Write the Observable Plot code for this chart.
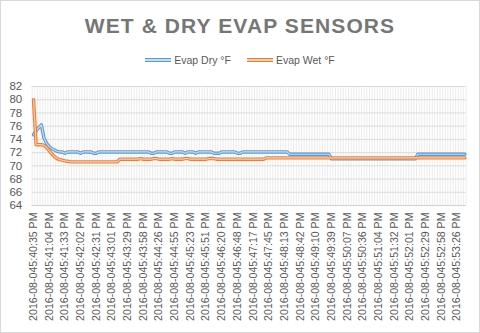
<!DOCTYPE html>
<html>
<head>
<meta charset="utf-8">
<script src="https://cdn.jsdelivr.net/npm/d3@7"></script>
<script src="https://cdn.jsdelivr.net/npm/@observablehq/plot@0.6"></script>
<style>
  html, body { margin: 0; padding: 0; background: #fff; }
  #wrap { position: relative; width: 480px; height: 333px; overflow: hidden; background: #fff; font-family: "Liberation Sans", Arial, sans-serif; }
  #frame { position: absolute; left: 0; top: 0; width: 480px; height: 333px; box-sizing: border-box; border: 1px solid #d9d9d9; pointer-events: none; }
  #title { position: absolute; left: 0; top: 15px; width: 480px; text-align: center; font-size: 21px; line-height: 21px; font-weight: bold; letter-spacing: 1.1px; color: #767676; }
  #legend { position: absolute; left: 0; top: 52px; width: 480px; height: 16px; display: flex; justify-content: center; align-items: center; font-size: 10.5px; color: #595959; }
  .item { display: flex; align-items: center; margin: 0 8px; }
  .sw { width: 26px; height: 1.6px; border-top: 1px solid; border-bottom: 1px solid; margin-right: 3px; }
  #chart { position: absolute; left: 0; top: 72px; }
  #chart svg [aria-label^="y-axis"] text { font-size: 11.5px; }
  #chart svg [aria-label^="x-axis"] text { font-size: 10.6px; }
</style>
</head>
<body>
<div id="wrap">
  <div id="title">WET &amp; DRY EVAP SENSORS</div>
  <div id="legend"></div>
  <div id="chart"></div>
  <div id="frame"></div>
</div>
<script>
const seriesNames = ["Evap Dry °F", "Evap Wet °F"];
const seriesColors = ["#5B9BD5", "#ED7D31"];
const seriesInner = ["#c9ddf1", "#f9cfb3"];

const dry = [
  74.7,75.3,75.8,76.2,74.2,73.4,72.9,72.6,72.4,72.2,
  72.1,72.1,71.9,72.1,72.1,72.1,72.1,72.1,71.9,72.1,
  72.1,72.1,72.1,71.9,71.9,72.1,72.1,72.1,72.1,72.1,
  72.1,72.1,72.1,72.1,72.1,72.1,72.1,72.1,72.1,72.1,
  72.1,72.1,72.1,72.1,72.1,71.9,71.9,72.1,72.1,72.1,
  72.1,72.1,71.9,71.9,72.1,72.1,72.1,72.1,71.9,72.1,
  72.1,72.1,71.9,72.1,72.1,72.1,72.1,72.1,72.1,71.9,
  71.9,71.9,72.1,72.1,72.1,72.1,72.1,72.1,71.9,71.9,
  72.1,72.1,72.1,72.1,72.1,72.1,72.1,72.1,72.1,72.1,
  72.1,72.1,72.1,72.1,72.1,72.1,72.1,72.1,71.75,71.75,
  71.75,71.75,71.75,71.75,71.75,71.75,71.75,71.75,71.75,71.75,
  71.75,71.75,71.75,71.75,71.05,71.05,71.05,71.05,71.05,71.05,
  71.05,71.05,71.05,71.05,71.05,71.05,71.05,71.05,71.05,71.05,
  71.05,71.05,71.05,71.05,71.05,71.05,71.05,71.05,71.05,71.05,
  71.05,71.05,71.05,71.05,71.05,71.05,71.05,71.75,71.75,71.75,
  71.75,71.75,71.75,71.75,71.75,71.75,71.75,71.75,71.75,71.75,
  71.75,71.75,71.75,71.75,71.75,71.75
];

const wet = [
  80.0,73.2,73.2,73.2,73.1,72.8,72.3,71.8,71.4,71.1,
  70.95,70.85,70.75,70.7,70.6,70.6,70.6,70.6,70.6,70.6,
  70.6,70.6,70.6,70.6,70.6,70.6,70.6,70.6,70.6,70.6,
  70.6,70.6,70.6,71.0,71.0,71.0,71.0,71.0,71.0,71.0,
  71.0,71.1,71.0,71.0,71.0,71.0,71.1,71.1,71.0,71.0,
  71.0,71.0,71.0,71.1,71.0,71.0,71.0,71.0,71.1,71.1,
  71.0,71.0,71.0,71.0,71.0,71.0,71.0,71.1,71.1,71.1,
  71.0,71.0,71.0,71.0,71.0,71.0,71.0,71.0,71.0,71.0,
  71.0,71.0,71.0,71.0,71.0,71.0,71.0,71.0,71.0,71.2,
  71.2,71.2,71.2,71.2,71.2,71.2,71.2,71.2,71.2,71.2,
  71.2,71.2,71.2,71.2,71.2,71.2,71.2,71.2,71.2,71.2,
  71.2,71.2,71.2,71.2,71.2,71.2,71.2,71.2,71.2,71.2,
  71.2,71.2,71.2,71.2,71.2,71.2,71.2,71.2,71.2,71.2,
  71.2,71.2,71.2,71.2,71.2,71.2,71.2,71.2,71.2,71.2,
  71.2,71.2,71.2,71.2,71.2,71.2,71.2,71.2,71.2,71.2,
  71.2,71.2,71.2,71.2,71.2,71.2,71.2,71.2,71.2,71.2,
  71.2,71.2,71.2,71.2,71.2,71.2
];

const tickLabels = [
  "2016-08-045:40:35 PM","2016-08-045:41:04 PM","2016-08-045:41:33 PM","2016-08-045:42:02 PM",
  "2016-08-045:42:31 PM","2016-08-045:43:01 PM","2016-08-045:43:29 PM","2016-08-045:43:58 PM",
  "2016-08-045:44:26 PM","2016-08-045:44:55 PM","2016-08-045:45:23 PM","2016-08-045:45:51 PM",
  "2016-08-045:46:20 PM","2016-08-045:46:48 PM","2016-08-045:47:17 PM","2016-08-045:47:45 PM",
  "2016-08-045:48:13 PM","2016-08-045:48:42 PM","2016-08-045:49:10 PM","2016-08-045:49:39 PM",
  "2016-08-045:50:07 PM","2016-08-045:50:36 PM","2016-08-045:51:04 PM","2016-08-045:51:32 PM",
  "2016-08-045:52:01 PM","2016-08-045:52:29 PM","2016-08-045:52:58 PM","2016-08-045:53:26 PM"
];
const labelEvery = 6;
const yTicks = [64, 66, 68, 70, 72, 74, 76, 78, 80, 82];

// legend
const legend = document.getElementById("legend");
seriesNames.forEach((name, k) => {
  const it = document.createElement("div");
  it.className = "item";
  const sw = document.createElement("div");
  sw.className = "sw";
  sw.style.borderColor = seriesColors[k];
  sw.style.background = seriesInner[k];
  const tx = document.createElement("span");
  tx.textContent = name;
  it.appendChild(sw); it.appendChild(tx);
  legend.appendChild(it);
});

const N = dry.length;
const rows = dry.map((d, i) => ({i, dry: d, wet: wet[i]}));
const tickIdx = tickLabels.map((_, k) => k * labelEvery);
const boundaries = d3.range(N + 1).map(k => k - 0.5);

const chart = Plot.plot({
  width: 480,
  height: 261,
  marginTop: 14,
  marginBottom: 128,
  marginLeft: 31.7,
  marginRight: 14.3,
  style: {fontFamily: "'Liberation Sans', Arial, sans-serif", color: "#595959", background: "transparent"},
  x: {type: "linear", domain: [-0.5, N - 0.5], ticks: tickIdx, tickFormat: i => tickLabels[Math.round(i / labelEvery)], tickRotate: -90, tickSize: 0, tickPadding: 7, label: null},
  y: {domain: [64, 82], ticks: yTicks, tickSize: 0, tickPadding: 10, label: null},
  marks: [
    Plot.ruleX(boundaries, {stroke: "#ececec", strokeWidth: 1}),
    Plot.ruleY(yTicks, {stroke: "#dcdcdc", strokeWidth: 1}),
    Plot.ruleY([64], {stroke: "#d0d0d0", strokeWidth: 1}),
    Plot.line(rows, {x: "i", y: "dry", stroke: seriesColors[0], strokeWidth: 3.4}),
    Plot.line(rows, {x: "i", y: "dry", stroke: seriesInner[0], strokeWidth: 1.2}),
    Plot.line(rows, {x: "i", y: "wet", stroke: seriesColors[1], strokeWidth: 3.4}),
    Plot.line(rows, {x: "i", y: "wet", stroke: seriesInner[1], strokeWidth: 1.2})
  ]
});
document.getElementById("chart").appendChild(chart);
</script>
</body>
</html>
